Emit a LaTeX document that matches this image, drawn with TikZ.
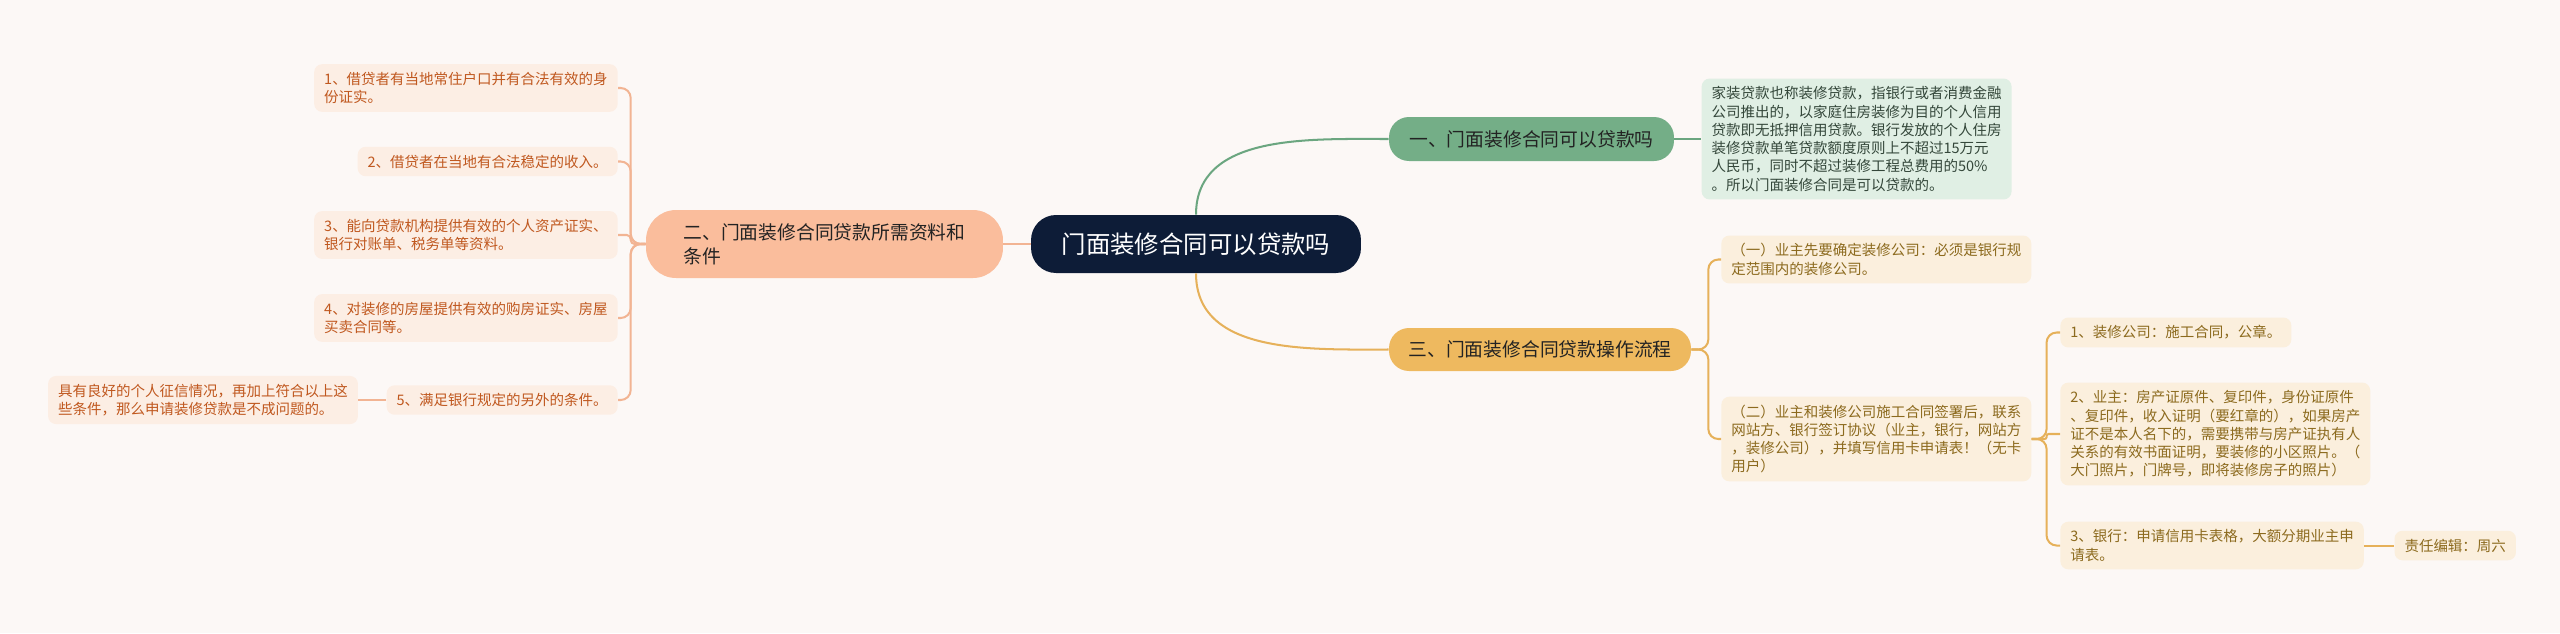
\documentclass[tikz,border=0pt]{standalone}
\usepackage{fontspec}
\setmainfont{Noto Sans CJK SC}
\usetikzlibrary{positioning}

\definecolor{bgcol}{HTML}{FCF8F6}
\definecolor{rootcol}{HTML}{0D1C37}
\definecolor{topictext}{HTML}{232323}
\definecolor{greenfill}{HTML}{74AE87}
\definecolor{greenline}{HTML}{6BA680}
\definecolor{peachfill}{HTML}{FABD9C}
\definecolor{peachline}{HTML}{F2B493}
\definecolor{goldfill}{HTML}{EEB95F}
\definecolor{goldline}{HTML}{E6B15A}
\definecolor{leaflfill}{HTML}{FCEEE4}
\definecolor{leafltext}{HTML}{C0581F}
\definecolor{leafgfill}{HTML}{E0EFE4}
\definecolor{leafgtext}{HTML}{34473A}
\definecolor{leafyfill}{HTML}{FBEFDD}
\definecolor{leafytext}{HTML}{8C6A1E}

\tikzstyle{rootnode} = [rectangle, rounded corners=0.5cm, fill=rootcol, text=white, minimum width=6.6cm, minimum height=1.16cm, font=\fontsize{13.9}{16}\selectfont]
\tikzstyle{topic} = [rectangle, rounded corners=0.4cm, text=topictext, minimum height=0.88cm, align=left, font=\fontsize{10.7}{13.7}\selectfont]
\tikzstyle{leafl} = [rectangle, rounded corners=0.16cm, fill=leaflfill, text=leafltext, inner xsep=0.2cm, inner ysep=0.16cm, align=left, font=\fontsize{8.25}{10.4}\selectfont]
\tikzstyle{leafg} = [leafl, fill=leafgfill, text=leafgtext]
\tikzstyle{leafy} = [leafl, fill=leafyfill, text=leafytext]
\tikzstyle{link} = [line width=1.15pt, rounded corners=0.2cm]

\begin{document}
\begin{tikzpicture}[x=0.02cm, y=-0.02cm]

    \useasboundingbox (0,0) rectangle (2560,633);
    \fill [bgcol] (0,0) rectangle (2560,633);

    % Centre and main topics
    \node (root) [rootnode] at (1196,244) {门面装修合同可以贷款吗};
    \node (b1) [topic, fill=greenfill, minimum width=5.7cm] at (1531.5,139) {一、门面装修合同可以贷款吗};
    \node (b2) [topic, fill=peachfill, minimum width=7.14cm, minimum height=1.36cm, rounded corners=0.6cm] at (824.5,244) {二、门面装修合同贷款所需资料和\\条件};
    \node (b3) [topic, fill=goldfill, minimum width=6.04cm, minimum height=0.86cm] at (1540,349.5) {三、门面装修合同贷款操作流程};

    % Left side
    \node (l1) [leafl, anchor=east] at (618,88) {1、借贷者有当地常住户口并有合法有效的身\\份证实。};
    \node (l2) [leafl, anchor=east] at (618,161.5) {2、借贷者在当地有合法稳定的收入。};
    \node (l3) [leafl, anchor=east] at (618,235) {3、能向贷款机构提供有效的个人资产证实、\\银行对账单、税务单等资料。};
    \node (l4) [leafl, anchor=east] at (618,318) {4、对装修的房屋提供有效的购房证实、房屋\\买卖合同等。};
    \node (l5) [leafl, anchor=east] at (618,400) {5、满足银行规定的另外的条件。};
    \node (note) [leafl, left=0.56cm of l5] {具有良好的个人征信情况，再加上符合以上这\\些条件，那么申请装修贷款是不成问题的。};

    % Right side
    \node (info) [leafg, right=0.54cm of b1] {家装贷款也称装修贷款，指银行或者消费金融\\公司推出的，以家庭住房装修为目的个人信用\\贷款即无抵押信用贷款。银行发放的个人住房\\装修贷款单笔贷款额度原则上不超过15万元\\人民币，同时不超过装修工程总费用的50\%\\。所以门面装修合同是可以贷款的。};
    \node (s1) [leafy, anchor=west] at (1721,259.5) {（一）业主先要确定装修公司：必须是银行规\\定范围内的装修公司。};
    \node (s2) [leafy, anchor=west] at (1721,439) {（二）业主和装修公司施工合同签署后，联系\\网站方、银行签订协议（业主，银行，网站方\\，装修公司），并填写信用卡申请表！（无卡\\用户）};
    \node (c1) [leafy, anchor=west] at (2060,332.5) {1、装修公司：施工合同，公章。};
    \node (c2) [leafy, anchor=west] at (2060,434) {2、业主：房产证原件、复印件，身份证原件\\、复印件，收入证明（要红章的），如果房产\\证不是本人名下的，需要携带与房产证执有人\\关系的有效书面证明，要装修的小区照片。（\\大门照片，门牌号，即将装修房子的照片）};
    \node (c3) [leafy, anchor=west] at (2060,545.5) {3、银行：申请信用卡表格，大额分期业主申\\请表。};
    \node (ed) [leafy, right=0.6cm of c3] {责任编辑：周六};

    % ==== Connectors
    % Main branches
    \draw [link, greenline] (root.north) to[out=90, in=180] (b1.west);
    \draw [link, goldline] (root.south) to[out=-90, in=180] (b3.west);
    \draw [link, peachline] (root.west) -- (b2.east);

    % Left branch
    \draw [link, peachline] (b2.west) -- ++(-15,0) |- (l1.east);
    \draw [link, peachline] (b2.west) -- ++(-15,0) |- (l2.east);
    \draw [link, peachline, rounded corners=0.08cm] (b2.west) -- ++(-15,0) |- (l3.east);
    \draw [link, peachline] (b2.west) -- ++(-15,0) |- (l4.east);
    \draw [link, peachline] (b2.west) -- ++(-15,0) |- (l5.east);
    \draw [link, peachline] (l5) -- (note);

    % Right branches
    \draw [link, greenline] (b1) -- (info);
    \draw [link, goldline] (b3.east) -- ++(17,0) |- (s1.west);
    \draw [link, goldline] (b3.east) -- ++(17,0) |- (s2.west);
    \draw [link, goldline] (s2.east) -- ++(15,0) |- (c1.west);
    \draw [link, goldline, rounded corners=0.04cm] (s2.east) -- ++(15,0) |- (c2.west);
    \draw [link, goldline] (s2.east) -- ++(15,0) |- (c3.west);
    \draw [link, goldline] (c3) -- (ed);

\end{tikzpicture}
\end{document}
